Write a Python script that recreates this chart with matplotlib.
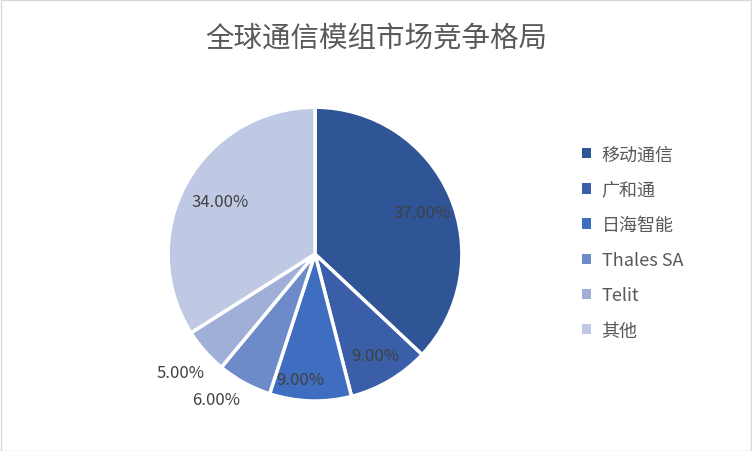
import matplotlib
matplotlib.use("Agg")
import matplotlib.pyplot as plt
from matplotlib.patches import Rectangle
import numpy as np

plt.rcParams["font.family"] = ["Noto Sans CJK SC", "DejaVu Sans"]

companies = ["移动通信", "广和通", "日海智能", "Thales SA", "Telit", "其他"]
shares = [37, 9, 9, 6, 5, 34]
colors = ["#2F5597", "#3A5FA8", "#3F6DBF", "#6D8AC9", "#A0AFD8", "#BFC9E4"]
# label placement: radial distance and angular nudge (degrees)
label_dist = [0.78, 0.80, 0.86, 1.20, 1.22, 0.74]
label_nudge = [-2, 0, -5, -5.5, 0, 0]

fig = plt.figure(figsize=(7.52, 4.52), dpi=100)
fig.patches.append(Rectangle((0.001, 0.001), 0.998, 0.997, transform=fig.transFigure,
                             fill=False, edgecolor="#D9D9D9", linewidth=1))

ax = fig.add_axes([0.2234, 0.1106, 0.391, 0.650])
wedges, texts, autotexts = ax.pie(
    shares, colors=colors, startangle=90, counterclock=False,
    autopct=lambda p: f"{p:.2f}%", pctdistance=0.8,
    wedgeprops=dict(edgecolor="white", linewidth=2.5),
    textprops=dict(fontsize=12, color="#404040"))

for w, t, d, n in zip(wedges, autotexts, label_dist, label_nudge):
    ang = np.deg2rad((w.theta1 + w.theta2) / 2 + n)
    t.set_position((d * np.cos(ang), d * np.sin(ang)))

ax.set_xlim(-1, 1)
ax.set_ylim(-1, 1)
ax.set_aspect("equal")

fig.text(0.5, 0.915, "全球通信模组市场竞争格局", ha="center", va="center",
         fontsize=20.5, color="#595959")

leg = fig.legend(wedges, companies, loc="center left", bbox_to_anchor=(0.752, 0.461),
                 frameon=False, fontsize=13, handlelength=0.5, handleheight=0.5,
                 handletextpad=0.6, labelspacing=0.95, labelcolor="#595959")
for h in leg.legend_handles:
    h.set_edgecolor("none")

fig.savefig("out.png", dpi=100)
